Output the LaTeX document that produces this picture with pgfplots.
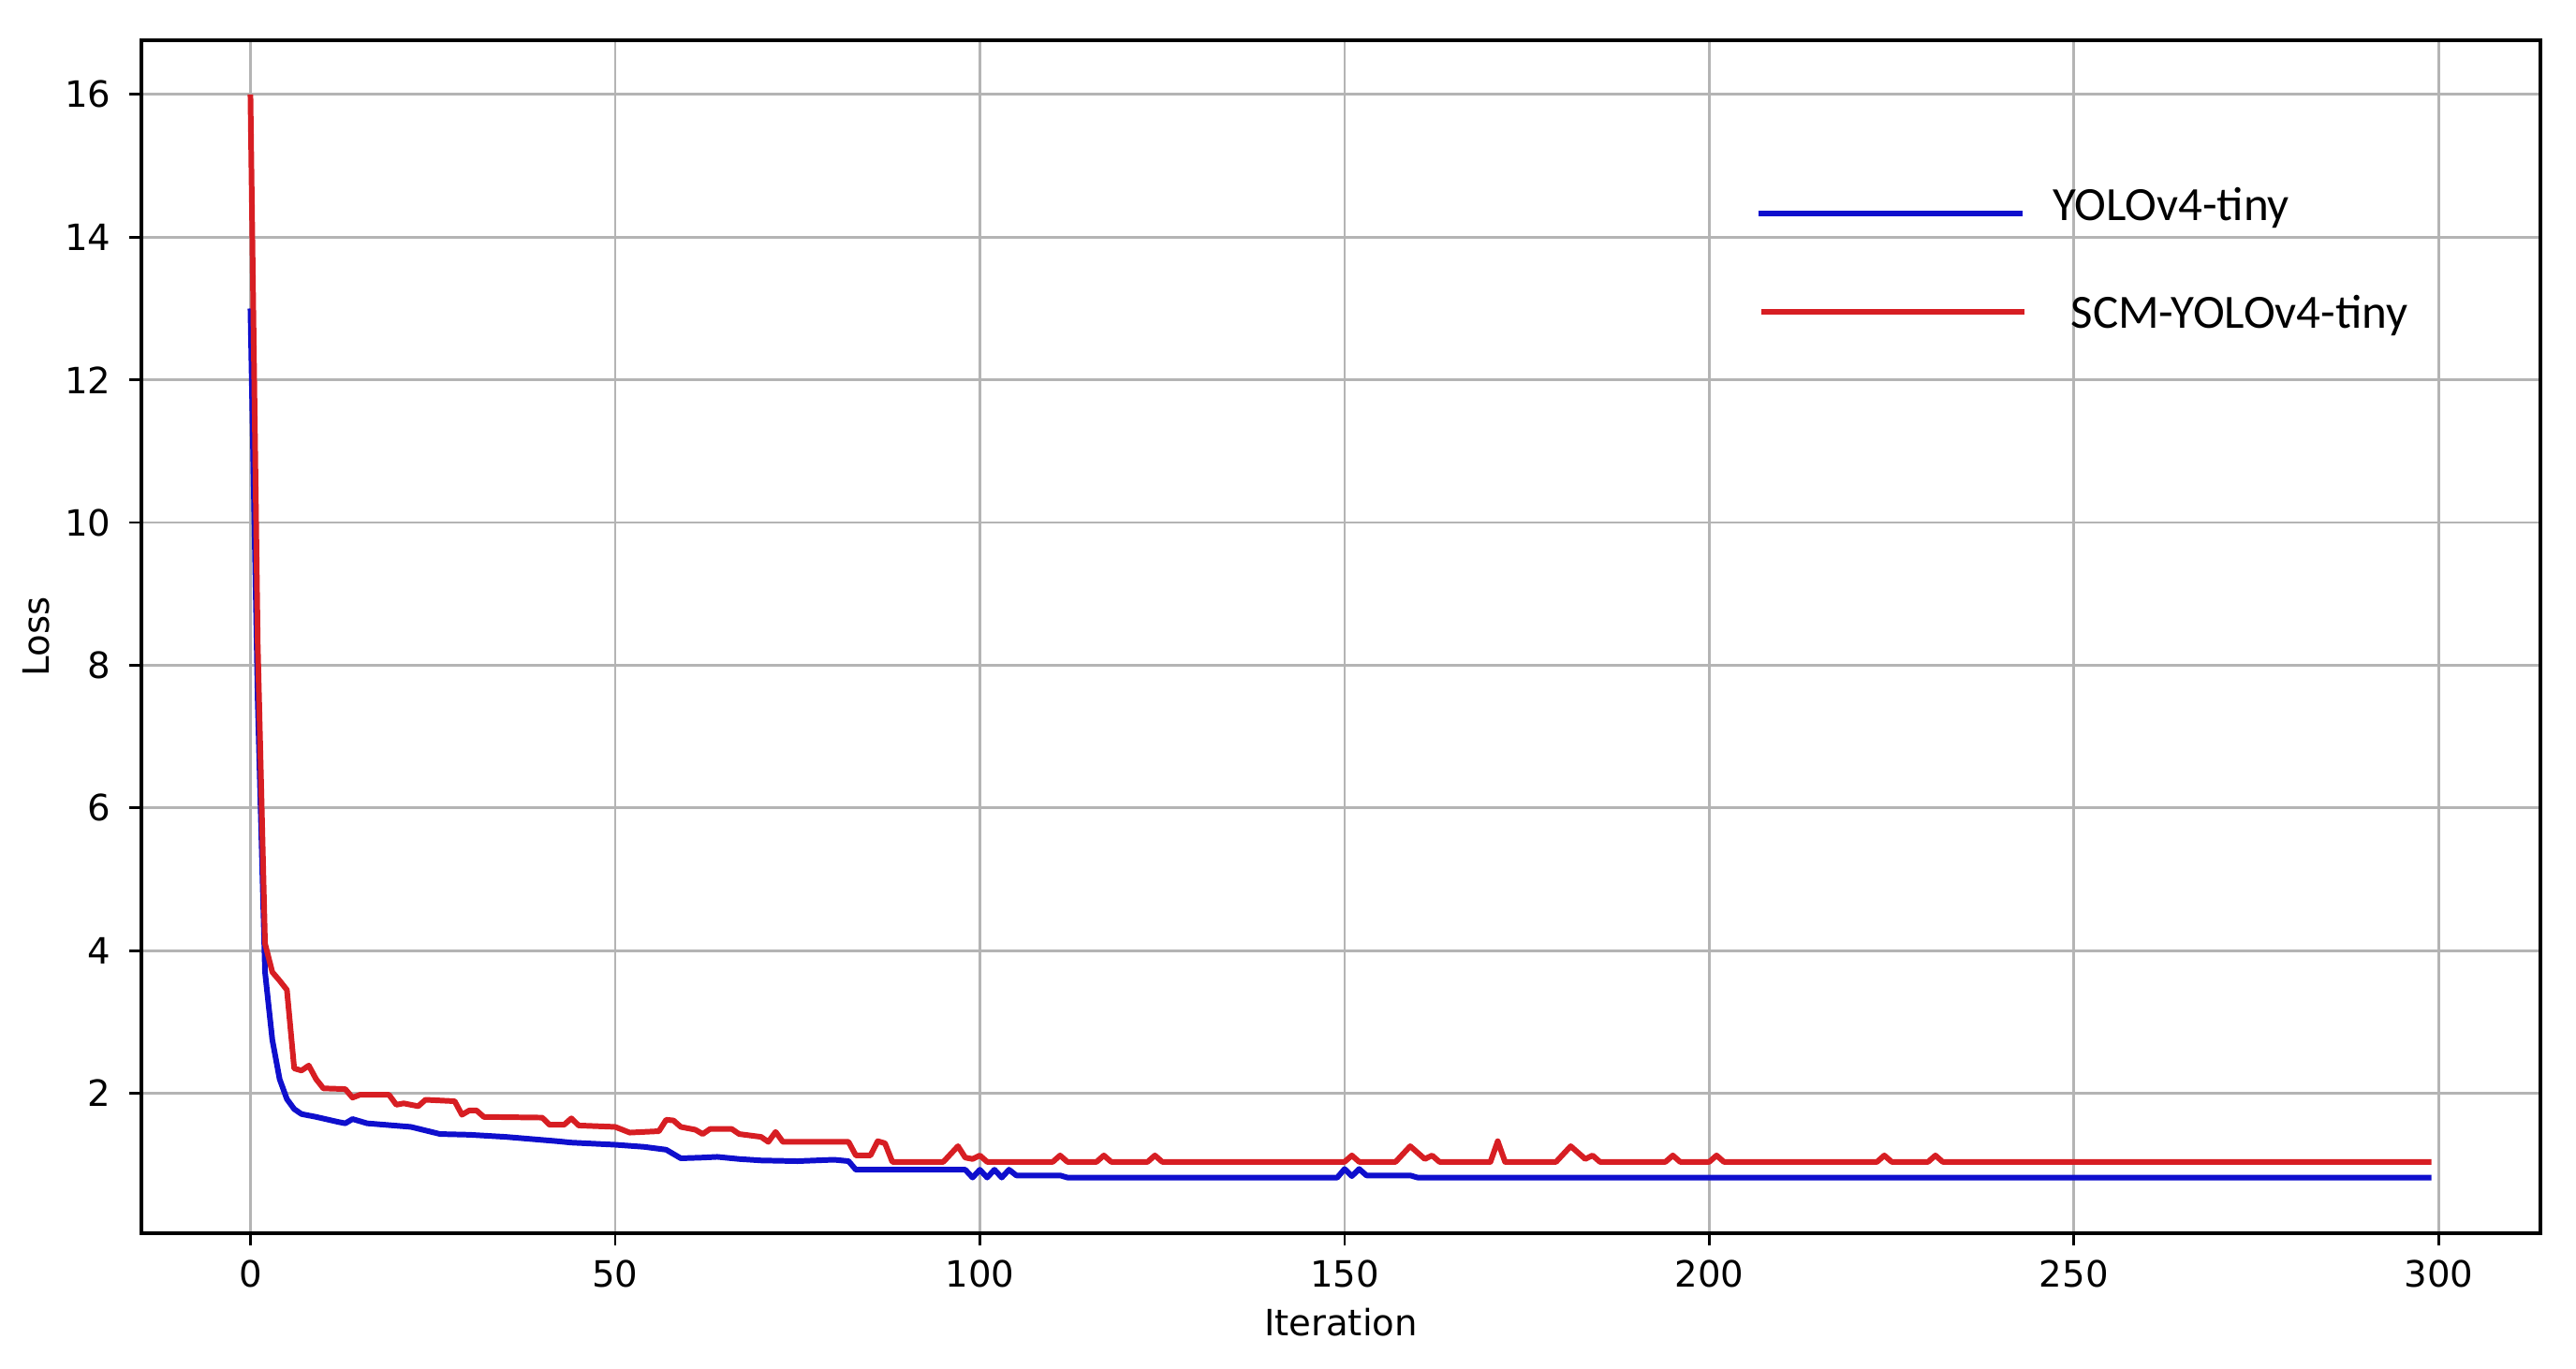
\documentclass[border=0pt]{standalone}
\usepackage{fontspec}
\setmainfont{DejaVu Sans}
\newfontfamily\legfont{Carlito}
\usepackage{pgfplots}
\pgfplotsset{compat=1.18}

\definecolor{yoloblue}{RGB}{15,15,205}
\definecolor{scmred}{RGB}{215,30,35}
\definecolor{gridgray}{RGB}{180,180,180}

\begin{document}
\begin{tikzpicture}
\useasboundingbox (-1.51,-1.45) rectangle (26.00,13.17);
\begin{axis}[
    scale only axis,
    width=25.62cm, height=12.74cm,
    xmin=-14.95, xmax=313.95,
    ymin=0.04, ymax=16.76,
    xtick={0,50,100,150,200,250,300},
    ytick={2,4,6,8,10,12,14,16},
    xtick pos=bottom, ytick pos=left,
    tick align=outside,
    major tick length=0.13cm,
    tick style={black, line width=0.8pt},
    axis line style={black, line width=0.9pt},
    grid=major,
    major grid style={gridgray, line width=0.8pt},
    /pgf/number format/assume math mode=true,
    tick label style={font=\fontsize{11}{13}\selectfont, inner sep=0pt},
    xticklabel style={anchor=north, yshift=-0.15cm},
    yticklabel style={anchor=east, xshift=-0.19cm},
    xlabel={Iteration},
    ylabel={Loss},
    label style={font=\fontsize{11}{13}\selectfont, inner sep=0pt},
    xlabel style={at={(axis description cs:0.5,0)}, anchor=base, yshift=-1.10cm},
    ylabel style={at={(axis description cs:-0.0386,0.5)}, anchor=base},
    clip=false,
]
% YOLOv4-tiny
\addplot[yoloblue, line width=1.7pt, line join=round] coordinates {
(0,13.0) (1,7.5) (2,3.7) (3,2.75) (4,2.2) (5,1.92) (6,1.78) (7,1.71)
(9,1.67) (12,1.6) (13,1.58) (14,1.64) (16,1.58) (22,1.53) (24,1.48)
(26,1.43) (30,1.42) (35,1.39) (42,1.33) (44,1.31) (50,1.28) (54,1.25)
(57,1.21) (59,1.09) (62,1.10) (64,1.11) (67,1.08) (70,1.06) (75,1.05)
(80,1.07) (82,1.05) (83,0.93) (98,0.93) (99,0.82) (100,0.93) (101,0.82)
(102,0.93) (103,0.82) (104,0.93) (105,0.85) (111,0.85) (112,0.82)
(149,0.82) (150,0.94) (151,0.84) (152,0.94) (153,0.85) (159,0.85)
(160,0.82) (299,0.82)
};
% SCM-YOLOv4-tiny
\addplot[scmred, line width=1.7pt, line join=round] coordinates {
(0,16.0) (1,8.3) (2,4.1) (3,3.7) (4,3.58) (5,3.45) (6,2.35) (7,2.32)
(8,2.39) (9,2.2) (10,2.07) (13,2.06) (14,1.94) (15,1.98) (19,1.98)
(20,1.84) (21,1.86) (23,1.82) (24,1.91) (28,1.89) (29,1.70) (30,1.76)
(31,1.76) (32,1.67) (40,1.66) (41,1.56) (43,1.56) (44,1.65) (45,1.55)
(50,1.53) (52,1.45) (56,1.47) (57,1.63) (58,1.62) (59,1.53) (61,1.49)
(62,1.43) (63,1.50) (66,1.50) (67,1.43) (70,1.39) (71,1.32) (72,1.46)
(73,1.32) (82,1.32) (83,1.13) (85,1.13) (86,1.33) (87,1.30) (88,1.04)
(95,1.04) (97,1.26) (98,1.10) (99,1.08) (100,1.13) (101,1.04)
(110,1.04) (111,1.13) (112,1.04) (116,1.04) (117,1.13) (118,1.04)
(123,1.04) (124,1.13) (125,1.04) (150,1.04) (151,1.13) (152,1.04)
(157,1.04) (159,1.26) (161,1.08) (162,1.13) (163,1.04) (170,1.04)
(171,1.33) (172,1.04) (179,1.04) (181,1.26) (183,1.08) (184,1.13)
(185,1.04) (194,1.04) (195,1.13) (196,1.04) (200,1.04) (201,1.13)
(202,1.04) (223,1.04) (224,1.13) (225,1.04) (230,1.04) (231,1.13)
(232,1.04) (299,1.04)
};
% legend
\draw[yoloblue, line width=1.7pt] (axis cs:206.8,14.33) -- (axis cs:242.9,14.33);
\draw[scmred, line width=1.7pt] (axis cs:207.2,12.96) -- (axis cs:243.2,12.96);
\node[anchor=base west, inner sep=0pt, font=\legfont\fontsize{14.5}{16}\selectfont]
  at (axis cs:247.0,14.23) {YOLOv4-tiny};
\node[anchor=base west, inner sep=0pt, font=\legfont\fontsize{14.5}{16}\selectfont]
  at (axis cs:249.5,12.73) {SCM-YOLOv4-tiny};
\end{axis}
\end{tikzpicture}
\end{document}
